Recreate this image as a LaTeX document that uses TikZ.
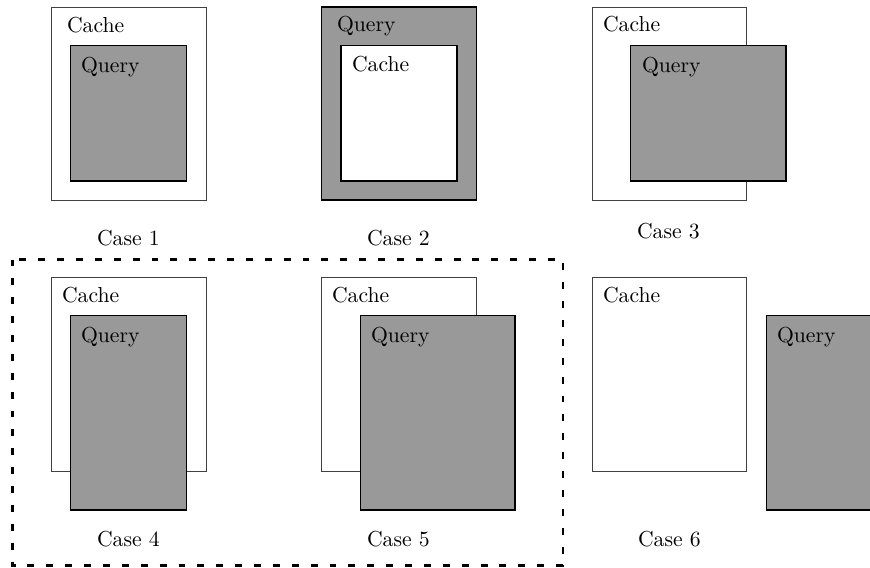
\documentclass[tikz,border=0pt]{standalone}
\usetikzlibrary{positioning}

\tikzset{
  cachebox/.style={draw=black!75, line width=0.4pt, fill=white},
  querybox/.style={draw=black, line width=0.6pt, fill=black!40},
  lbl/.style={inner sep=0pt, outer sep=0pt, anchor=base west, font=\normalsize},
  groupframe/.style={draw=black, line width=1.25pt, dash pattern=on 3.2pt off 5.5pt}
}

\begin{document}
\begin{tikzpicture}[x=0.4608pt, y=-0.4608pt]
  \useasboundingbox (0,0) rectangle (870,567);
  \clip (0,0) rectangle (870,567);

  % Case 1: query inside cache
  \draw[cachebox] (51,7) rectangle (206,200);
  \draw[querybox] (70.5,45.5) rectangle (186.5,181);
  \node[lbl] (c1cache) at (67,32) {Cache};
  \node[lbl] (c1query) at (81,72) {Query};
  \node[lbl] (case1) at (97,245) {Case 1};

  % Case 2: cache inside query
  \draw[querybox] (321.5,7) rectangle (476.5,200);
  \draw[cachebox, draw=black, line width=0.6pt] (341,45.5) rectangle (457,181);
  \node[lbl] (c2query) at (337,31) {Query};
  \node[lbl] (c2cache) at (352,71) {Cache};
  \node[lbl] (case2) at (367,245) {Case 2};

  % Case 3: query overlaps cache to the right
  \draw[cachebox] (592.5,7) rectangle (746.5,200);
  \draw[querybox] (630.5,45.5) rectangle (786,181);
  \node[lbl] (c3cache) at (603,31) {Cache};
  \node[lbl] (c3query) at (642,72) {Query};
  \node[lbl] (case3) at (637,238) {Case 3};

  % Case 4: query overlaps cache at the bottom
  \draw[cachebox] (51,277.5) rectangle (206,471);
  \draw[querybox] (70.5,315.5) rectangle (186.5,510);
  \node[lbl] (c4cache) at (62,302) {Cache};
  \node[lbl] (c4query) at (81,342) {Query};
  \node[lbl] (case4) at (97,546) {Case 4};

  % Case 5: query overlaps cache to the right and bottom
  \draw[cachebox] (321.5,277.5) rectangle (476.5,471);
  \draw[querybox] (360.5,315.5) rectangle (515,510);
  \node[lbl] (c5cache) at (332,302) {Cache};
  \node[lbl] (c5query) at (371,342) {Query};
  \node[lbl] (case5) at (367,546) {Case 5};

  % Case 6: disjoint
  \draw[cachebox] (592.5,277.5) rectangle (746.5,471);
  \draw[querybox] (766.5,315.5) rectangle (921,510);
  \node[lbl] (c6cache) at (603,302) {Cache};
  \node[lbl] (c6query) at (777,342) {Query};
  \node[lbl] (case6) at (638,546) {Case 6};

  % Frame grouping cases 4 and 5
  \draw[groupframe] (12.5,259.5) rectangle (563,565.5);
\end{tikzpicture}
\end{document}
